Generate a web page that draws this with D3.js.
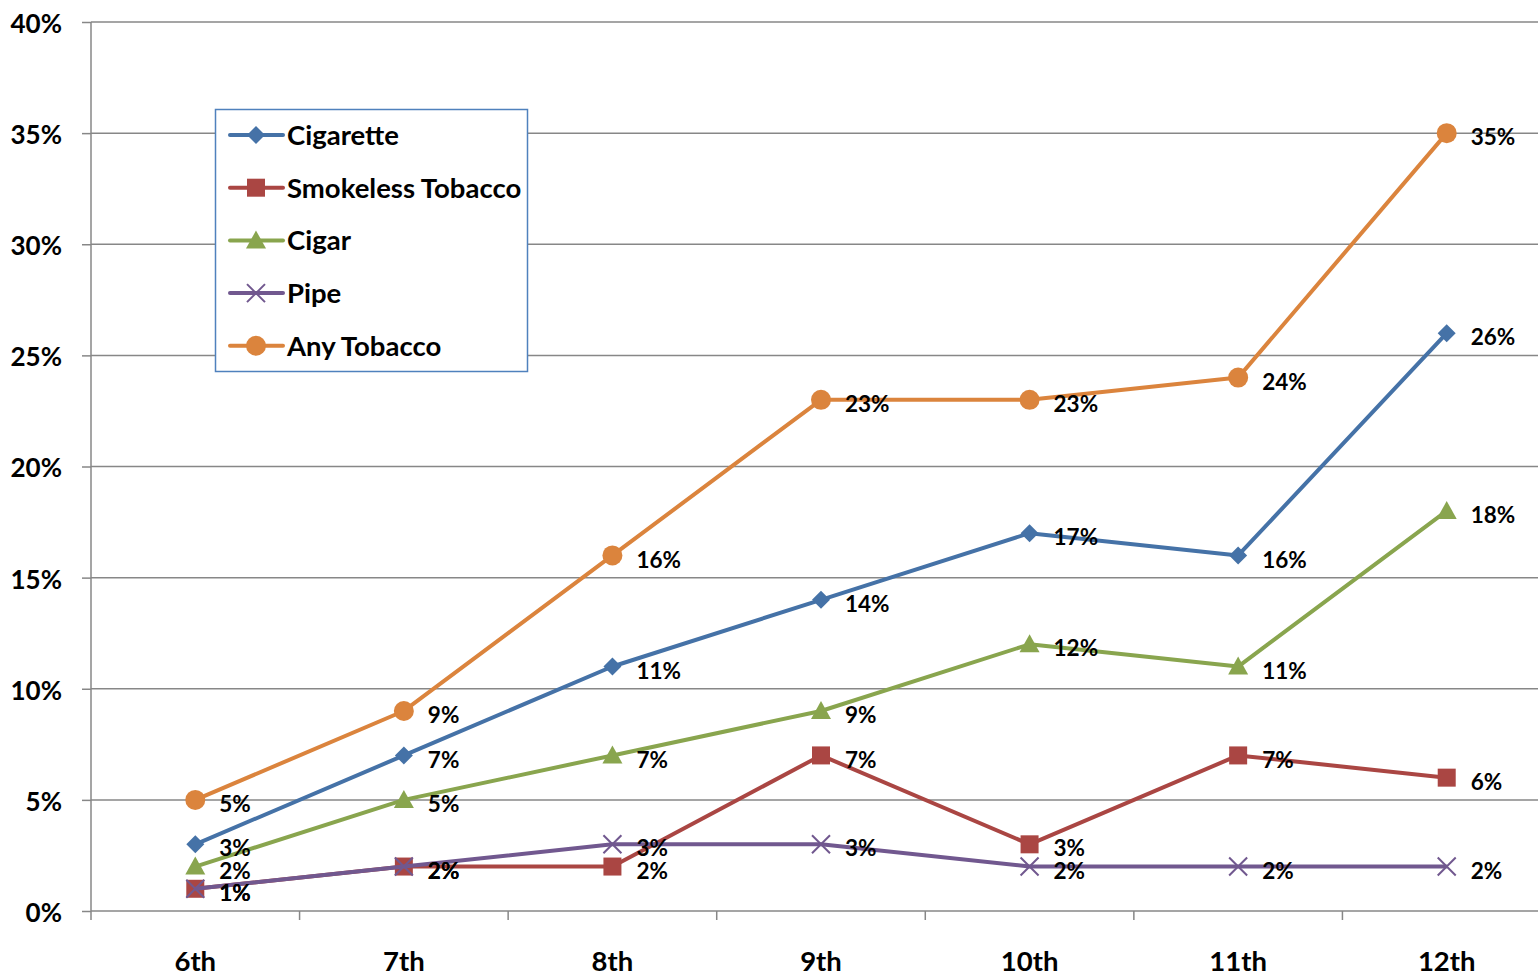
<!DOCTYPE html>
<html><head><meta charset="utf-8">
<script src="https://cdn.jsdelivr.net/npm/d3@7/dist/d3.min.js"></script>
<style>
body{margin:0;background:#fff;}
svg{display:block;font-family:Lato,"Open Sans",sans-serif;font-weight:bold;}
</style></head><body>
<svg id="chart" width="1538" height="974"></svg>
<script>
const categories = ["6th","7th","8th","9th","10th","11th","12th"];
const seriesNames = ["Cigarette","Smokeless Tobacco","Cigar","Pipe","Any Tobacco"];
const cigarette = [3,7,11,14,17,16,26];
const smokeless = [1,2,2,7,3,7,6];
const cigar = [2,5,7,9,12,11,18];
const pipe = [1,2,3,3,2,2,2];
const anyTobacco = [5,9,16,23,23,24,35];
const yTicks = [0,5,10,15,20,25,30,35,40];
const colors = ["#4572A7","#AA4643","#89A54E","#71588F","#DB843D"];
const markers = ["diamond","square","triangle","x","circle"];

const series = [cigarette, smokeless, cigar, pipe, anyTobacco].map((v,i)=>({name:seriesNames[i], values:v, color:colors[i], marker:markers[i]}));

const svg = d3.select("#chart");
const mLeft = 91, mRight = 1551, mTop = 22, mBottom = 911;
const x = d3.scaleBand().domain(categories).range([mLeft,mRight]);
const y = d3.scaleLinear().domain([0,40]).range([mBottom,mTop]);
const cx = c => x(c) + x.bandwidth()/2;

// gridlines
svg.append("g").selectAll("line").data(yTicks.filter(t=>t>0)).join("line")
  .attr("x1",mLeft).attr("x2",1538).attr("y1",d=>y(d)).attr("y2",d=>y(d))
  .attr("stroke","#878787").attr("stroke-width",1.5);

// y axis
const yAxis = svg.append("g").attr("transform",`translate(${mLeft},0)`)
  .call(d3.axisLeft(y).tickValues(yTicks).tickSize(9).tickPadding(20).tickFormat(d=>d+"%"));
yAxis.select(".domain").attr("stroke","#878787").attr("stroke-width",1.5).attr("d",`M0,${mTop}V${mBottom}`);
yAxis.selectAll(".tick line").attr("stroke","#878787").attr("stroke-width",1.5);
yAxis.selectAll(".tick text").attr("font-size",26).attr("fill","#000").attr("font-family","Lato,sans-serif").attr("font-weight","bold").attr("dy","0.4em");

// x axis
const xAxis = svg.append("g").attr("transform",`translate(0,${mBottom})`)
  .call(d3.axisBottom(x).tickSize(0).tickPadding(40));
xAxis.select(".domain").attr("stroke","#878787").attr("stroke-width",1.5).attr("d",`M${mLeft},0H1538`);
xAxis.selectAll(".tick text").attr("font-size",27.5).attr("fill","#000").attr("font-family","Lato,sans-serif").attr("font-weight","bold");
// boundary tick marks
svg.append("g").selectAll("line").data(categories).join("line")
  .attr("x1",d=>x(d)).attr("x2",d=>x(d)).attr("y1",mBottom).attr("y2",mBottom+9)
  .attr("stroke","#878787").attr("stroke-width",1.5);

function drawMarker(g, type, color){
  if(type==="diamond"){
    g.append("path").attr("d","M0,-9L9,0L0,9L-9,0Z").attr("fill",color);
  } else if(type==="square"){
    g.append("rect").attr("x",-9).attr("y",-9).attr("width",18).attr("height",18).attr("fill",color);
  } else if(type==="triangle"){
    g.append("path").attr("d","M0,-10L10,8L-10,8Z").attr("fill",color);
  } else if(type==="x"){
    g.append("path").attr("d","M-9,-9L9,9M-9,9L9,-9").attr("stroke",color).attr("stroke-width",2).attr("fill","none");
  } else {
    g.append("circle").attr("r",10).attr("fill",color);
  }
}

const line = d3.line().x((d,i)=>cx(categories[i])).y(d=>y(d));
series.forEach(s=>{
  svg.append("path").datum(s.values).attr("d",line).attr("fill","none")
    .attr("stroke",s.color).attr("stroke-width",4).attr("stroke-linejoin","round");
  s.values.forEach((v,i)=>{
    const g = svg.append("g").attr("transform",`translate(${cx(categories[i])},${y(v)})`);
    drawMarker(g, s.marker, s.color);
  });
});
// data labels
series.forEach(s=>{
  svg.append("g").selectAll("text").data(s.values).join("text")
    .attr("x",(d,i)=>cx(categories[i])+24).attr("y",d=>y(d)+4)
    .attr("dy","0.36em").attr("font-size",22.5).attr("fill","#000").text(d=>d+"%");
});

// legend
const lg = svg.append("g");
lg.append("rect").attr("x",215.5).attr("y",109.5).attr("width",312).attr("height",262)
  .attr("fill","#fff").attr("stroke","#4f81bd").attr("stroke-width",1.5);
series.forEach((s,i)=>{
  const yy = 135 + i*52.7;
  lg.append("line").attr("x1",230).attr("x2",283).attr("y1",yy).attr("y2",yy)
    .attr("stroke",s.color).attr("stroke-width",4).attr("stroke-linecap","round");
  const g = lg.append("g").attr("transform",`translate(256,${yy})`);
  drawMarker(g, s.marker, s.color);
  lg.append("text").attr("x",287).attr("y",yy).attr("dy","0.36em").attr("font-size",27.5).attr("fill","#000").text(s.name);
});
</script>
</body></html>
